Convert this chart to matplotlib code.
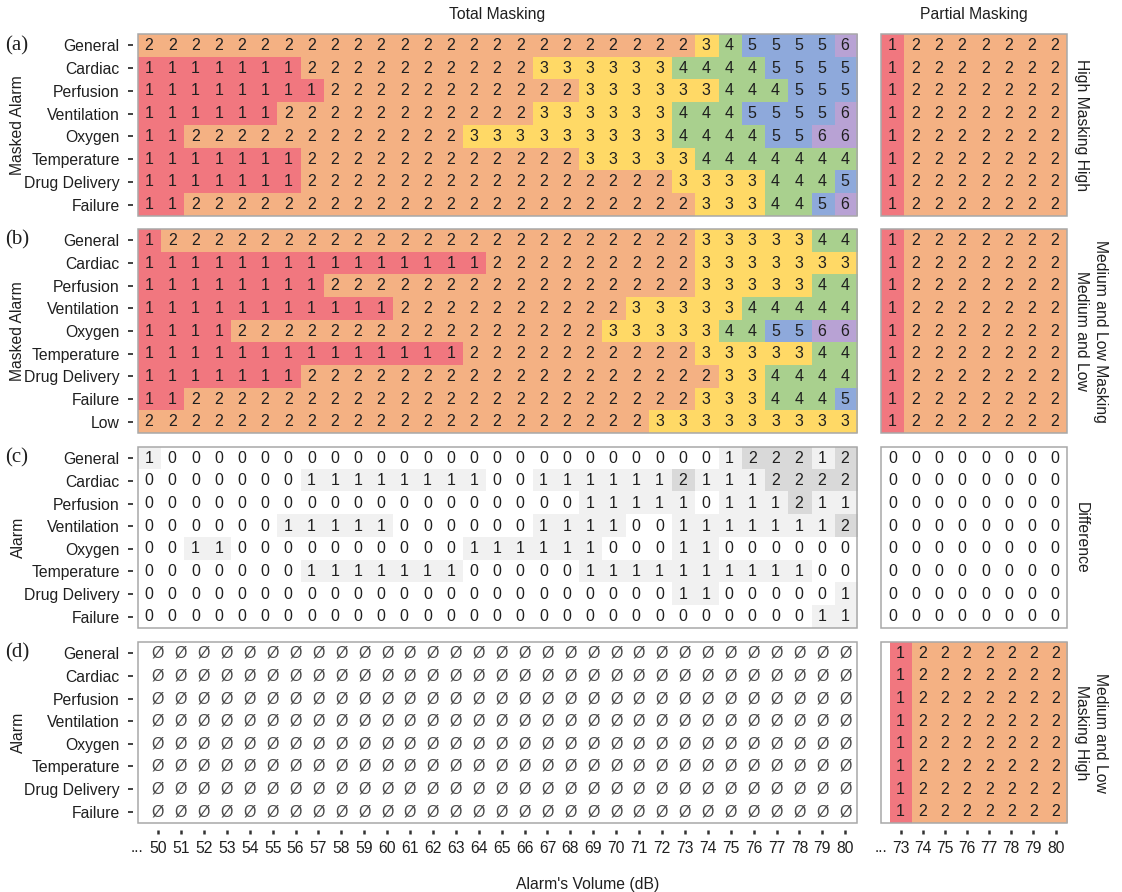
import matplotlib
matplotlib.use('Agg')
import matplotlib.pyplot as plt
from matplotlib.colors import ListedColormap, BoundaryNorm
from matplotlib.patches import Rectangle
import numpy as np

plt.rcParams['font.family'] = ['Liberation Sans', 'DejaVu Sans']

# ---------------- data ----------------
volumes_total = [50, 51, 52, 53, 54, 55, 56, 57, 58, 59, 60, 61, 62, 63, 64, 65,
                 66, 67, 68, 69, 70, 71, 72, 73, 74, 75, 76, 77, 78, 79, 80]
volumes_partial = [73, 74, 75, 76, 77, 78, 79, 80]

alarms = ['General', 'Cardiac', 'Perfusion', 'Ventilation', 'Oxygen',
          'Temperature', 'Drug Delivery', 'Failure']
alarms_b = alarms + ['Low']

# (a) High masking High, total masking
a_general     = [2,2,2,2,2,2,2,2,2,2,2,2,2,2,2,2,2,2,2,2,2,2,2,2,3,4,5,5,5,5,6]
a_cardiac     = [1,1,1,1,1,1,1,2,2,2,2,2,2,2,2,2,2,3,3,3,3,3,3,4,4,4,4,5,5,5,5]
a_perfusion   = [1,1,1,1,1,1,1,1,2,2,2,2,2,2,2,2,2,2,2,3,3,3,3,3,3,4,4,4,5,5,5]
a_ventilation = [1,1,1,1,1,1,2,2,2,2,2,2,2,2,2,2,2,3,3,3,3,3,3,4,4,4,5,5,5,5,6]
a_oxygen      = [1,1,2,2,2,2,2,2,2,2,2,2,2,2,3,3,3,3,3,3,3,3,3,4,4,4,4,5,5,6,6]
a_temperature = [1,1,1,1,1,1,1,2,2,2,2,2,2,2,2,2,2,2,2,3,3,3,3,3,4,4,4,4,4,4,4]
a_drug        = [1,1,1,1,1,1,1,2,2,2,2,2,2,2,2,2,2,2,2,2,2,2,2,3,3,3,3,4,4,4,5]
a_failure     = [1,1,2,2,2,2,2,2,2,2,2,2,2,2,2,2,2,2,2,2,2,2,2,2,3,3,3,4,4,5,6]

# (b) Medium and Low masking Medium and Low, total masking
b_general     = [1,2,2,2,2,2,2,2,2,2,2,2,2,2,2,2,2,2,2,2,2,2,2,2,3,3,3,3,3,4,4]
b_cardiac     = [1,1,1,1,1,1,1,1,1,1,1,1,1,1,1,2,2,2,2,2,2,2,2,2,3,3,3,3,3,3,3]
b_perfusion   = [1,1,1,1,1,1,1,1,2,2,2,2,2,2,2,2,2,2,2,2,2,2,2,2,3,3,3,3,3,4,4]
b_ventilation = [1,1,1,1,1,1,1,1,1,1,1,2,2,2,2,2,2,2,2,2,2,3,3,3,3,3,4,4,4,4,4]
b_oxygen      = [1,1,1,1,2,2,2,2,2,2,2,2,2,2,2,2,2,2,2,2,3,3,3,3,3,4,4,5,5,6,6]
b_temperature = [1,1,1,1,1,1,1,1,1,1,1,1,1,1,2,2,2,2,2,2,2,2,2,2,3,3,3,3,3,4,4]
b_drug        = [1,1,1,1,1,1,1,2,2,2,2,2,2,2,2,2,2,2,2,2,2,2,2,2,2,3,3,4,4,4,4]
b_failure     = [1,1,2,2,2,2,2,2,2,2,2,2,2,2,2,2,2,2,2,2,2,2,2,2,3,3,3,4,4,4,5]
b_low         = [2,2,2,2,2,2,2,2,2,2,2,2,2,2,2,2,2,2,2,2,2,2,3,3,3,3,3,3,3,3,3]

# (c) Difference, total masking
c_general     = [1,0,0,0,0,0,0,0,0,0,0,0,0,0,0,0,0,0,0,0,0,0,0,0,0,1,2,2,2,1,2]
c_cardiac     = [0,0,0,0,0,0,0,1,1,1,1,1,1,1,1,0,0,1,1,1,1,1,1,2,1,1,1,2,2,2,2]
c_perfusion   = [0,0,0,0,0,0,0,0,0,0,0,0,0,0,0,0,0,0,0,1,1,1,1,1,0,1,1,1,2,1,1]
c_ventilation = [0,0,0,0,0,0,1,1,1,1,1,0,0,0,0,0,0,1,1,1,1,0,0,1,1,1,1,1,1,1,2]
c_oxygen      = [0,0,1,1,0,0,0,0,0,0,0,0,0,0,1,1,1,1,1,1,0,0,0,1,1,0,0,0,0,0,0]
c_temperature = [0,0,0,0,0,0,0,1,1,1,1,1,1,1,0,0,0,0,0,1,1,1,1,1,1,1,1,1,1,0,0]
c_drug        = [0,0,0,0,0,0,0,0,0,0,0,0,0,0,0,0,0,0,0,0,0,0,0,1,1,0,0,0,0,0,1]
c_failure     = [0,0,0,0,0,0,0,0,0,0,0,0,0,0,0,0,0,0,0,0,0,0,0,0,0,0,0,0,0,1,1]

# partial masking (73..80), same for every alarm row
p_row = [1, 2, 2, 2, 2, 2, 2, 2]
p_diff_row = [0, 0, 0, 0, 0, 0, 0, 0]

panel_a = [a_general, a_cardiac, a_perfusion, a_ventilation, a_oxygen,
           a_temperature, a_drug, a_failure]
panel_b = [b_general, b_cardiac, b_perfusion, b_ventilation, b_oxygen,
           b_temperature, b_drug, b_failure, b_low]
panel_c = [c_general, c_cardiac, c_perfusion, c_ventilation, c_oxygen,
           c_temperature, c_drug, c_failure]

# ---------------- style ----------------
level_colors = ['#F1777F', '#F4B183', '#FFD966', '#A9D08E', '#8EA9DB', '#B8A2D4']
level_cmap = ListedColormap(level_colors)
level_norm = BoundaryNorm([0.5, 1.5, 2.5, 3.5, 4.5, 5.5, 6.5], 6)
diff_cmap = ListedColormap(['#FFFFFF', '#F1F1F1', '#D9D9D9'])
diff_norm = BoundaryNorm([-0.5, 0.5, 1.5, 2.5], 3)

W, H = 1122, 892
fig = plt.figure(figsize=(W / 100, H / 100), dpi=100)

LX0, LX1 = 137.5, 856.7
RX0, RX1 = 880.7, 1066.7
panel_y = {'a': (34, 216), 'b': (229, 433), 'c': (447, 628), 'd': (642, 823)}

TEXT_C = '#1f1f1f'
CELL_FS = 11.5
LABEL_FS = 11.3


def make_ax(x0, x1, y0, y1):
    return fig.add_axes([x0 / W, (H - y1) / H, (x1 - x0) / W, (y1 - y0) / H])


def style_ax(ax, rows, show_y, show_x, xlabels):
    for s in ax.spines.values():
        s.set_visible(False)
    ax.add_patch(Rectangle((0, 0), 1, 1, transform=ax.transAxes, fill=False,
                           edgecolor='#A8A8A8', lw=1.1, clip_on=False, zorder=5))
    ax.spines['left'].set_position(('outward', 3.2))
    ax.spines['bottom'].set_position(('outward', 5))
    if show_y:
        ax.set_yticks(range(len(rows)), labels=rows)
        ax.tick_params(axis='y', length=3.5, width=1.3, color='#333333',
                       pad=6, labelsize=LABEL_FS, labelcolor=TEXT_C)
    else:
        ax.set_yticks([])
    if show_x:
        ax.set_xticks(range(len(xlabels)), labels=[str(v) for v in xlabels])
        ax.set_xticks([-0.9], labels=['...'], minor=True)
        ax.tick_params(axis='x', which='major', length=3, width=1.8,
                       color='#333333', pad=5, labelsize=LABEL_FS,
                       labelcolor=TEXT_C)
        ax.tick_params(axis='x', which='minor', length=0, pad=7.5,
                       labelsize=LABEL_FS, labelcolor=TEXT_C)
    else:
        ax.set_xticks([])


def level_panel(ax, data, rows, show_y, show_x, xlabels):
    arr = np.array(data)
    ax.imshow(arr, cmap=level_cmap, norm=level_norm, aspect='auto',
              interpolation='nearest')
    for i in range(arr.shape[0]):
        for j in range(arr.shape[1]):
            ax.text(j, i, str(arr[i, j]), ha='center', va='center',
                    fontsize=CELL_FS, color=TEXT_C)
    style_ax(ax, rows, show_y, show_x, xlabels)


def diff_panel(ax, data, rows, show_y):
    arr = np.array(data)
    ax.imshow(arr, cmap=diff_cmap, norm=diff_norm, aspect='auto',
              interpolation='nearest')
    for i in range(arr.shape[0]):
        for j in range(arr.shape[1]):
            ax.text(j, i, str(arr[i, j]), ha='center', va='center',
                    fontsize=CELL_FS, color=TEXT_C)
    style_ax(ax, rows, show_y, False, None)


def empty_panel(ax, rows, ncols, show_x, xlabels):
    ax.set_xlim(-0.5, ncols - 0.5)
    ax.set_ylim(len(rows) - 0.5, -0.5)
    for i in range(len(rows)):
        for j in range(ncols):
            ax.text(j, i, '\u00d8', ha='center', va='center',
                    fontsize=CELL_FS, color='#4a4a4a')
    style_ax(ax, rows, True, show_x, xlabels)


# (a)
y0, y1 = panel_y['a']
ax = make_ax(LX0, LX1, y0, y1)
level_panel(ax, panel_a, alarms, True, False, None)
ax = make_ax(RX0, RX1, y0, y1)
level_panel(ax, [p_row] * len(alarms), alarms, False, False, None)

# (b)
y0, y1 = panel_y['b']
ax = make_ax(LX0, LX1, y0, y1)
level_panel(ax, panel_b, alarms_b, True, False, None)
ax = make_ax(RX0, RX1, y0, y1)
level_panel(ax, [p_row] * len(alarms_b), alarms_b, False, False, None)

# (c)
y0, y1 = panel_y['c']
ax = make_ax(LX0, LX1, y0, y1)
diff_panel(ax, panel_c, alarms, True)
ax = make_ax(RX0, RX1, y0, y1)
diff_panel(ax, [p_diff_row] * len(alarms), alarms, False)

# (d)
y0, y1 = panel_y['d']
ax = make_ax(LX0, LX1, y0, y1)
empty_panel(ax, alarms, len(volumes_total), True, volumes_total)
ax = make_ax(RX0, RX1, y0, y1)
level_panel(ax, [p_row] * len(alarms), alarms, False, True, volumes_partial)

# panel tags and y labels
serif = ['Liberation Serif', 'DejaVu Serif']
for tag, ylab in zip('abcd', ['Masked Alarm', 'Masked Alarm', 'Alarm', 'Alarm']):
    y0, y1 = panel_y[tag]
    row_h = (y1 - y0) / (9 if tag == 'b' else 8)
    fig.text(5 / W, 1 - (y0 + row_h / 2) / H, f'({tag})', family=serif,
             fontsize=15, ha='left', va='center', color=TEXT_C)
    fig.text(18 / W, 1 - ((y0 + y1) / 2) / H, ylab, rotation=90,
             fontsize=LABEL_FS, ha='center', va='center', color=TEXT_C)

right_titles = {'a': 'High Masking High',
                'b': 'Medium and Low Masking\nMedium and Low',
                'c': 'Difference',
                'd': 'Medium and Low\nMasking High'}
for tag, t in right_titles.items():
    y0, y1 = panel_y[tag]
    fig.text(1074 / W, 1 - ((y0 + y1) / 2) / H, t, rotation=-90,
             fontsize=LABEL_FS, ha='left', va='center', ma='center',
             color=TEXT_C, linespacing=1.3)

fig.text(((LX0 + LX1) / 2) / W, 1 - 15 / H, 'Total Masking', fontsize=LABEL_FS,
         ha='center', va='center', color=TEXT_C)
fig.text(((RX0 + RX1) / 2) / W, 1 - 15 / H, 'Partial Masking', fontsize=LABEL_FS,
         ha='center', va='center', color=TEXT_C)
fig.text(588 / W, 1 - 884 / H, "Alarm's Volume (dB)", fontsize=LABEL_FS,
         ha='center', va='center', color=TEXT_C)

fig.savefig('out.png', dpi=100, facecolor='white')
